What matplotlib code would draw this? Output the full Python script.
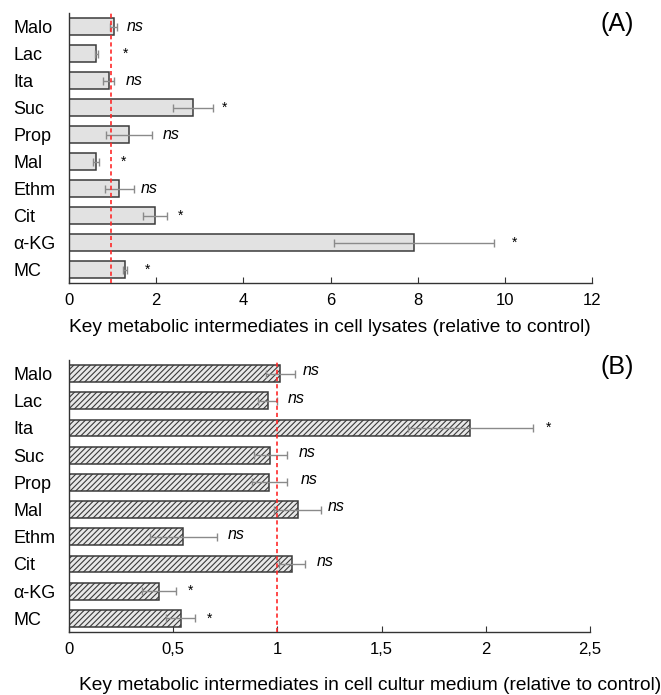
import matplotlib
matplotlib.use("Agg")
import matplotlib.pyplot as plt

plt.rcParams['font.family'] = ['Liberation Sans', 'DejaVu Sans']

categories = ["Malo", "Lac", "Ita", "Suc", "Prop", "Mal", "Ethm", "Cit", "α-KG", "MC"]

a_values = [1.03, 0.63, 0.91, 2.84, 1.37, 0.61, 1.15, 1.97, 7.92, 1.29]
a_errors = [0.08, 0.03, 0.12, 0.46, 0.53, 0.07, 0.33, 0.28, 1.83, 0.05]
a_sig = ["ns", "*", "ns", "*", "ns", "*", "ns", "*", "*", "*"]
a_sig_x = [1.33, 1.23, 1.30, 3.50, 2.15, 1.19, 1.65, 2.50, 10.16, 1.73]
a_ticks = [0, 2, 4, 6, 8, 10, 12]
a_ref = 0.96

b_values = [1.014, 0.953, 1.926, 0.966, 0.961, 1.097, 0.549, 1.070, 0.432, 0.536]
b_errors = [0.070, 0.045, 0.300, 0.080, 0.085, 0.112, 0.160, 0.063, 0.083, 0.069]
b_sig = ["ns", "ns", "*", "ns", "ns", "ns", "ns", "ns", "*", "*"]
b_sig_x = [1.12, 1.05, 2.29, 1.10, 1.11, 1.24, 0.76, 1.19, 0.57, 0.66]
b_ticks = [0, 0.5, 1, 1.5, 2, 2.5]
b_ticklabels = ["0", "0,5", "1", "1,5", "2", "2,5"]
b_ref = 1.0

W, H = 661, 695
fig = plt.figure(figsize=(W / 100, H / 100), dpi=100)
plt.rcParams['hatch.color'] = '#909090'
plt.rcParams['hatch.linewidth'] = 0.8

def axrect(l, t, r, b):
    return [l / W, 1 - b / H, (r - l) / W, (b - t) / H]

axA = fig.add_axes(axrect(69, 13, 592, 283))
axB = fig.add_axes(axrect(69, 360, 590, 632))

ypos = list(range(len(categories)))

def style(ax, xmax, ticks, ticklabels):
    ax.set_xlim(0, xmax)
    ax.set_ylim(len(categories) - 0.5, -0.5)
    ax.set_yticks(ypos)
    ax.set_yticklabels(categories, fontsize=13, ha='left')
    ax.set_xticks(ticks)
    ax.set_xticklabels(ticklabels, fontsize=12)
    for s in ["top", "right"]:
        ax.spines[s].set_visible(False)
    for s in ["left", "bottom"]:
        ax.spines[s].set_color("#333333")
        ax.spines[s].set_linewidth(1.0)
    ax.tick_params(axis='y', length=0, pad=40)
    ax.tick_params(axis='x', direction='in', length=4, color='#333333', pad=7)

# Panel A
axA.barh(ypos, a_values, height=0.62, color="#e2e2e2", edgecolor="#3a3a3a",
         linewidth=1.1, zorder=2)
axA.errorbar(a_values, ypos, xerr=a_errors, fmt='none', ecolor="#8a8a8a",
             elinewidth=1.0, capsize=3, capthick=1.0, zorder=3)
axA.axvline(a_ref, color="#ff2a2a", linestyle=(0, (2.5, 1.8)), linewidth=1.2, zorder=4)
for y, s, x in zip(ypos, a_sig, a_sig_x):
    if s == "ns":
        axA.text(x, y, s, fontsize=11.5, style='italic', va='center', ha='left')
    else:
        axA.text(x, y, s, fontsize=10, va='center', ha='left')
style(axA, 12, a_ticks, [str(t) for t in a_ticks])
fig.text(330 / W, 1 - 327 / H,
         "Key metabolic intermediates in cell lysates (relative to control)",
         fontsize=13.8, ha='center', va='center')
fig.text(617 / W, 1 - 24 / H, "(A)", fontsize=18, ha='center', va='center')

# Panel B
axB.barh(ypos, b_values, height=0.62, color="#e8e8e8", edgecolor="#3a3a3a",
         linewidth=1.1, hatch='//////', zorder=2)
axB.errorbar(b_values, ypos, xerr=b_errors, fmt='none', ecolor="#8a8a8a",
             elinewidth=1.0, capsize=3, capthick=1.0, zorder=3)
axB.axvline(b_ref, color="#ff2a2a", linestyle=(0, (2.5, 1.8)), linewidth=1.2, zorder=4)
for y, s, x in zip(ypos, b_sig, b_sig_x):
    if s == "ns":
        axB.text(x, y - 0.1, s, fontsize=11.5, style='italic', va='center', ha='left')
    else:
        axB.text(x, y, s, fontsize=10, va='center', ha='left')
style(axB, 2.5, b_ticks, b_ticklabels)
fig.text(370 / W, 1 - 686 / H,
         "Key metabolic intermediates in cell cultur medium (relative to control)",
         fontsize=13.8, ha='center', va='center')
fig.text(617 / W, 1 - 367 / H, "(B)", fontsize=18, ha='center', va='center')

fig.savefig("out.png", dpi=100)
